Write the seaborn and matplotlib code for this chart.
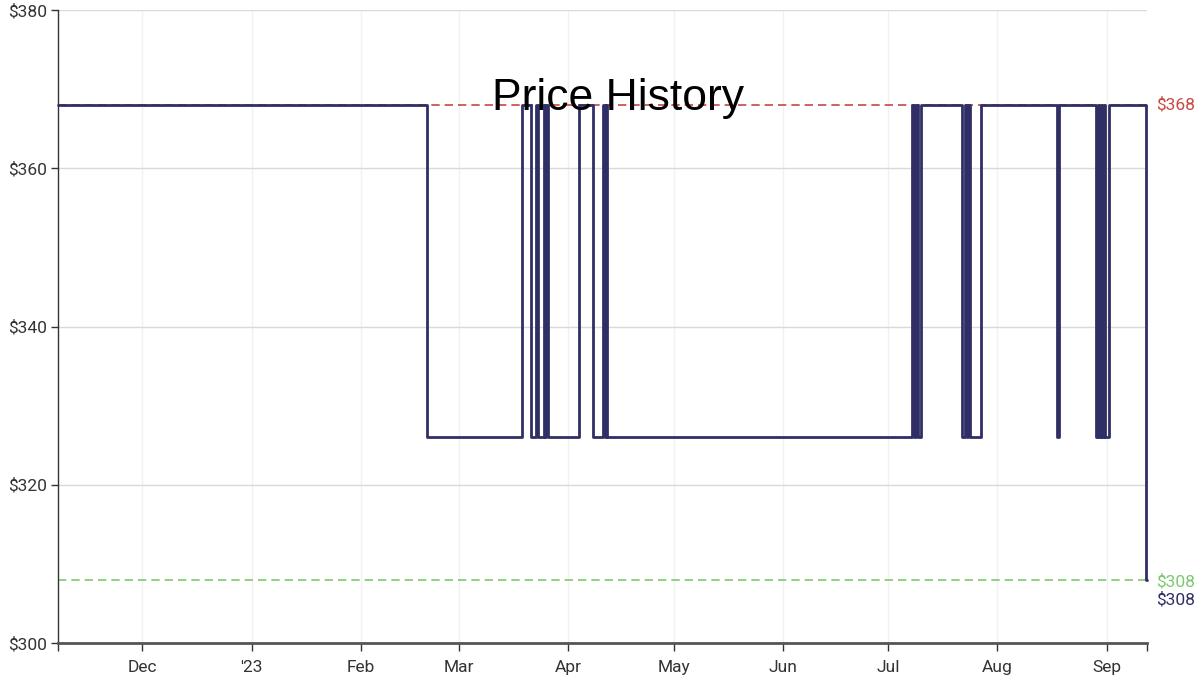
import matplotlib
matplotlib.use("Agg")
import matplotlib.pyplot as plt
import seaborn as sns
import pandas as pd

# price steps (each price holds until the next date)
change_dates = [
    "2022-11-07 00:00", "2023-02-20 00:00",
    "2023-03-19 00:00", "2023-03-21 12:00", "2023-03-22 22:00", "2023-03-23 08:00",
    "2023-03-25 03:00", "2023-03-25 12:00", "2023-03-25 18:00", "2023-03-26 06:00",
    "2023-04-04 00:00", "2023-04-08 00:00", "2023-04-10 22:00", "2023-04-11 08:00",
    "2023-04-11 18:00", "2023-04-12 04:00",
    "2023-07-07 14:00", "2023-07-08 08:00", "2023-07-08 22:00", "2023-07-09 12:00",
    "2023-07-10 04:00", "2023-07-22 00:00", "2023-07-22 20:00", "2023-07-23 06:00",
    "2023-07-23 16:00", "2023-07-24 02:00", "2023-07-27 06:00",
    "2023-08-17 20:00", "2023-08-18 14:00", "2023-08-29 02:00", "2023-08-29 12:00",
    "2023-08-29 22:00", "2023-08-30 08:00", "2023-08-30 18:00", "2023-08-31 04:00",
    "2023-08-31 14:00", "2023-09-01 14:00", "2023-09-12 08:00", "2023-09-12 12:00",
]
prices = [
    368, 326,
    368, 326, 368, 326,
    368, 326, 368, 326,
    368, 326, 368, 326,
    368, 326,
    368, 326, 368, 326,
    368, 326, 368, 326,
    368, 326, 368,
    326, 368, 326, 368,
    326, 368, 326, 368,
    326, 368, 308, 308,
]

high_price = 368
low_price = 308
current_price = 308

y_ticks = [300, 320, 340, 360, 380]
tick_dates = ["2022-12-01", "2023-01-01", "2023-02-01", "2023-03-01", "2023-04-01",
              "2023-05-01", "2023-06-01", "2023-07-01", "2023-08-01", "2023-09-01"]
tick_labels = ["Dec", "'23", "Feb", "Mar", "Apr", "May", "Jun", "Jul", "Aug", "Sep"]
x_start, x_end = "2022-11-07 00:00", "2023-09-12 12:00"

df = pd.DataFrame({"date": pd.to_datetime(change_dates), "price": prices})

sns.set_theme(style="white")
plt.rcParams['font.family'] = ['Roboto', 'DejaVu Sans']

fig = plt.figure(figsize=(12, 6.81), dpi=100)
ax = fig.add_axes([58 / 1200, 38 / 681, 1089 / 1200, 633 / 681])

# reference lines for highest / lowest
ax.axhline(high_price, color="#c8473f", lw=1.2, dashes=(5, 3), zorder=1)
ax.axhline(low_price, color="#7dc870", lw=1.2, dashes=(5, 3), zorder=1)

sns.lineplot(data=df, x="date", y="price", ax=ax, drawstyle="steps-post",
             estimator=None, color="#2f2f66", lw=2.0, zorder=3, clip_on=False)

ax.set_xlim(pd.to_datetime(x_start), pd.to_datetime(x_end))
ax.set_ylim(300, 380)
ax.set_yticks(y_ticks)
ax.set_yticklabels([f"${v}" for v in y_ticks])
ax.set_xticks(pd.to_datetime(tick_dates))
ax.set_xticklabels(tick_labels)
ax.set_xticks(pd.to_datetime([x_start, x_end]), minor=True)
ax.set(xlabel="", ylabel="")

ax.grid(axis="y", color="#d9d9d9", lw=1)
ax.grid(axis="x", which="major", color="#f1f1f1", lw=1)
ax.set_axisbelow(True)

for s in ["top", "right"]:
    ax.spines[s].set_visible(False)
ax.spines["left"].set_color("#333333")
ax.spines["left"].set_linewidth(1)
ax.spines["bottom"].set_color("#555555")
ax.spines["bottom"].set_linewidth(2)

ax.tick_params(axis="y", which="major", left=True, length=5, width=1, color="#333333",
               labelsize=12.5, labelcolor="#333333", pad=3)
ax.tick_params(axis="x", which="both", bottom=True, length=6, width=1, color="#333333",
               labelsize=12.5, labelcolor="#333333", pad=6)

# right side labels
ax.text(1.008, high_price, f"${high_price}", transform=ax.get_yaxis_transform(),
        color="#c8473f", fontsize=12.5, va="center", ha="left")
ax.text(1.008, low_price - 0.2, f"${low_price}", transform=ax.get_yaxis_transform(),
        color="#7dc870", fontsize=12.5, va="center", ha="left")
ax.text(1.008, current_price - 2.5, f"${current_price}", transform=ax.get_yaxis_transform(),
        color="#2f2f66", fontsize=12.5, va="center", ha="left")

fig.text(618 / 1200, 1 - 110 / 681, "Price History", ha="center", va="baseline",
         fontsize=32, color="black", family=["Liberation Sans", "DejaVu Sans"], zorder=5)

fig.savefig("out.png", dpi=100)
